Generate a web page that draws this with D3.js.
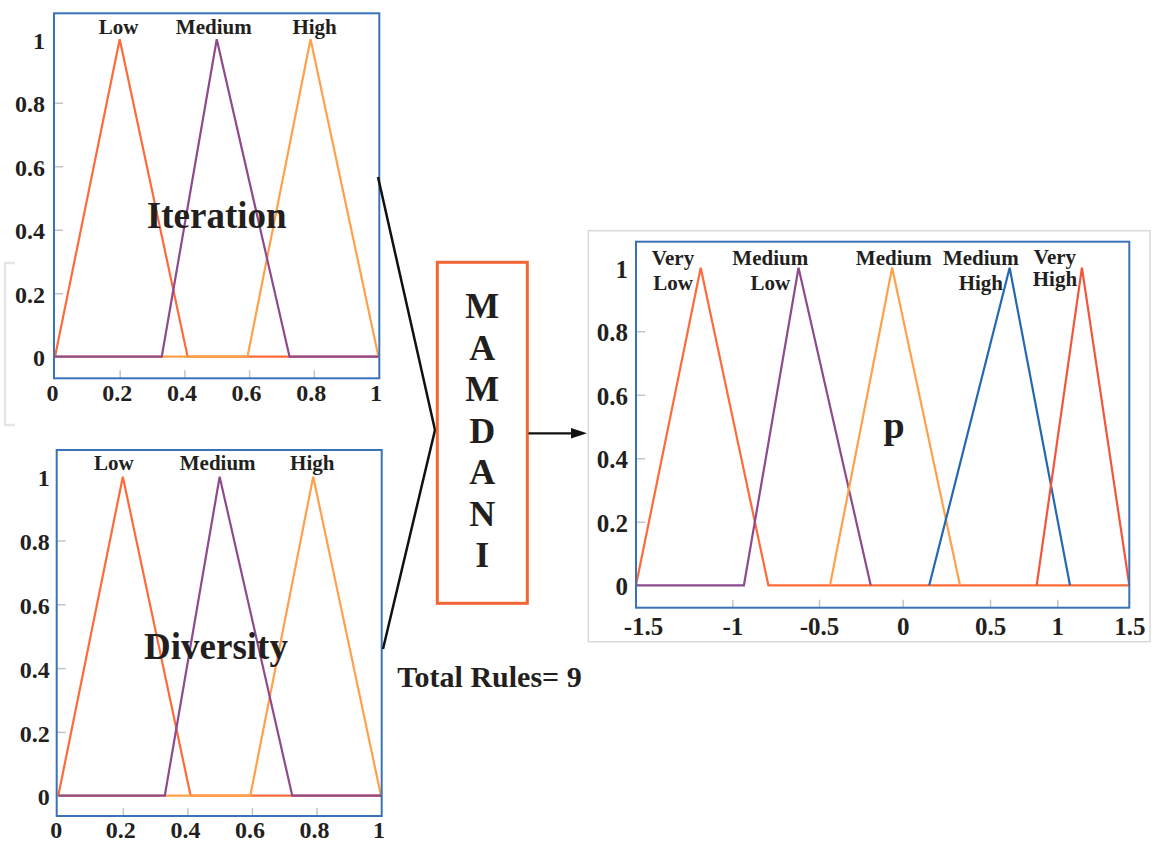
<!DOCTYPE html>
<html><head><meta charset="utf-8">
<script src="https://cdn.jsdelivr.net/npm/d3@7"></script>
<style>
body{margin:0;background:#fff}
svg{display:block}
text{font-family:"Liberation Serif","Times New Roman",serif;font-weight:bold;fill:#231f20}
</style>
</head><body>
<svg id="chart" width="1161" height="843"></svg>
<script>
// ---------------- DATA ----------------
const inputTicks = [0, 0.2, 0.4, 0.6, 0.8, 1];
const membershipTicks = [0, 0.2, 0.4, 0.6, 0.8, 1];
const outputTicks = [-1.5, -1, -0.5, 0, 0.5, 1, 1.5];

const inputSets = ["Low", "Medium", "High"];
const iterationLow    = [[0, 0], [0.2, 1], [0.41, 0], [1, 0]];
const iterationMedium = [[0, 0], [0.33, 0], [0.5, 1], [0.725, 0], [1, 0]];
const iterationHigh   = [[0, 0], [0.595, 0], [0.79, 1], [1, 0]];

const diversityLow    = [[0, 0], [0.2, 1], [0.41, 0], [1, 0]];
const diversityMedium = [[0, 0], [0.33, 0], [0.5, 1], [0.725, 0], [1, 0]];
const diversityHigh   = [[0, 0], [0.595, 0], [0.79, 1], [1, 0]];

const outputSets = [["Very", "Low"], ["Medium", "Low"], ["Medium"], ["Medium", "High"], ["Very", "High"]];
const pVeryLow    = [[-1.5, 0], [-1.164, 1], [-0.792, 0], [1.5, 0]];
const pMediumLow  = [[-1.5, 0], [-0.933, 0], [-0.618, 1], [-0.191, 0]];
const pMedium     = [[-0.434, 0], [-0.063, 1], [0.328, 0]];
const pMediumHigh = [[0.152, 0], [0.646, 1], [1.088, 0]];
const pVeryHigh   = [[0.847, 0], [1.171, 1], [1.5, 0]];

const inputNames = ["Iteration", "Diversity"];
const outputName = "p";
const engineName = "MAMDANI";
const ruleCount = 9;

// ---------------- STYLE / LAYOUT ----------------
const C = {
  red: "#ff6a3a", purple: "#8e4a8c", orange: "#ffa04a", blue: "#2468b2",
  red2: "#f4553a", frame: "#3a72b8", tick: "#c4c4c4", ink: "#231f20"
};
const svg = d3.select("#chart");
const FONT = '"Liberation Serif","Times New Roman",serif';

// faint background bracket
svg.append("path")
  .attr("d", d3.line()([[15, 263], [5, 263], [5, 425], [15, 425]]))
  .attr("fill", "none").attr("stroke", "#e6e6e6").attr("stroke-width", 2.5);

// right panel outer grey frame
svg.append("rect").attr("x", 588.3).attr("y", 230.7).attr("width", 1150 - 588.3).attr("height", 641.7 - 230.7)
  .attr("fill", "none").attr("stroke", "#d9d9d9").attr("stroke-width", 1.5);

function panel(cfg) {
  const g = svg.append("g");
  const { frame, x, y } = cfg;
  const line = d3.line().x(d => x(d[0])).y(d => y(d[1]));

  // series
  cfg.series.forEach(s => {
    g.append("path").attr("d", line(s.points))
      .attr("fill", "none").attr("stroke", s.color).attr("stroke-width", 2.2)
      .attr("stroke-linejoin", "miter");
  });

  // y axis
  const ya = g.append("g").attr("transform", `translate(${frame.x0},0)`)
    .call(d3.axisLeft(y).tickValues(membershipTicks).tickFormat(d => String(d))
      .tickSizeInner(-9).tickSizeOuter(0).tickPadding(cfg.yPad));
  // x axis
  const xa = g.append("g").attr("transform", `translate(0,${frame.y1})`)
    .call(d3.axisBottom(x).tickValues(cfg.xTicks).tickFormat(d => String(d))
      .tickSizeInner(-8).tickSizeOuter(0).tickPadding(cfg.xPad));

  [ya, xa].forEach(a => {
    a.select(".domain").remove();
    a.attr("font-family", FONT).attr("font-weight", "bold").attr("font-size", cfg.tickFont);
    a.selectAll(".tick text").attr("fill", C.ink);
    a.selectAll(".tick line").attr("stroke", C.tick).attr("stroke-width", 1.5);
  });
  ya.selectAll(".tick").filter(d => d === 0 || d === 1).select("line").remove();
  xa.selectAll(".tick").filter((d, i, n) => i === 0 || i === n.length - 1).select("line").remove();
  ya.selectAll(".tick text").attr("dy", "0.38em");
  xa.selectAll(".tick text").attr("dx", (d, i) => cfg.xLabelDx(i));

  // frame
  g.append("rect").attr("x", frame.x0).attr("y", frame.y0)
    .attr("width", frame.x1 - frame.x0).attr("height", frame.y1 - frame.y0)
    .attr("fill", "none").attr("stroke", C.frame).attr("stroke-width", 2);

  // set labels
  cfg.labels.forEach(l => {
    const t = g.append("text").attr("text-anchor", "middle").attr("font-size", 21);
    l.lines.forEach((s, i) => {
      t.append("tspan").attr("x", x(l.peak) + l.dx).attr("y", l.y[i]).text(s);
    });
  });

  // big name
  g.append("text").attr("x", cfg.name.x).attr("y", cfg.name.y).attr("text-anchor", "middle")
    .attr("font-size", cfg.name.size).text(cfg.name.text);
}

const peakOf = pts => pts.find(p => p[1] === 1)[0];

// Iteration panel
const fTop = { x0: 54, y0: 13.3, x1: 379.3, y1: 378.3 };
const itSeries = [iterationLow, iterationMedium, iterationHigh];
panel({
  frame: fTop,
  x: d3.scaleLinear().domain([0, 1]).range([55, 378.5]),
  y: d3.scaleLinear().domain([0, 1]).range([356.7, 39.3]),
  xTicks: inputTicks, yPad: 9, xPad: 6, tickFont: 24, xLabelDx: () => -3,
  series: [
    { points: iterationLow, color: C.red },
    { points: iterationHigh, color: C.orange },
    { points: iterationMedium, color: C.purple }
  ],
  labels: inputSets.map((s, i) => ({ lines: [s], peak: peakOf(itSeries[i]), dx: [-1, -3, 4][i], y: [34.3] })),
  name: { text: inputNames[0], x: 216.7, y: 228.3, size: 37 }
});

// Diversity panel
const dvSeries = [diversityLow, diversityMedium, diversityHigh];
panel({
  frame: { x0: 56.7, y0: 450, x1: 381.7, y1: 816 },
  x: d3.scaleLinear().domain([0, 1]).range([58.3, 381]),
  y: d3.scaleLinear().domain([0, 1]).range([795.7, 476.7]),
  xTicks: inputTicks, yPad: 7, xPad: 5, tickFont: 24, xLabelDx: () => -2.5,
  series: [
    { points: diversityLow, color: C.red },
    { points: diversityHigh, color: C.orange },
    { points: diversityMedium, color: C.purple }
  ],
  labels: inputSets.map((s, i) => ({ lines: [s], peak: peakOf(dvSeries[i]), dx: [-9, -2, -1][i], y: [470] })),
  name: { text: inputNames[1], x: 216, y: 659.3, size: 37 }
});

// Output panel p
const pSeries = [pVeryLow, pMediumLow, pMedium, pMediumHigh, pVeryHigh];
panel({
  frame: { x0: 636, y0: 241.7, x1: 1129.3, y1: 607.7 },
  x: d3.scaleLinear().domain(outputTicks).range([636, 732.3, 819, 902.7, 990, 1057.3, 1129.3]),
  y: d3.scaleLinear().domain([0, 1]).range([585.3, 267.7]),
  xTicks: outputTicks, yPad: 8, xPad: 10, tickFont: 25, xLabelDx: i => (i === 0 ? 7 : 0),
  series: [
    { points: pVeryLow, color: C.red },
    { points: pMediumLow, color: C.purple },
    { points: pMedium, color: C.orange },
    { points: pMediumHigh, color: C.blue },
    { points: pVeryHigh, color: C.red2 }
  ],
  labels: outputSets.map((s, i) => ({
    lines: s, peak: peakOf(pSeries[i]), dx: [-27.7, -28.3, 1.6, -28.8, -27][i],
    y: i === 4 ? [263.5, 286] : [265, 289.5]
  })),
  name: { text: outputName, x: 894, y: 438, size: 38 }
});

// connectors
svg.append("path").attr("d", d3.line()([[378, 177], [435, 430], [383, 649]]))
  .attr("fill", "none").attr("stroke", "#111").attr("stroke-width", 2.5);

// MAMDANI box
svg.append("rect").attr("x", 437.3).attr("y", 262.3).attr("width", 90).attr("height", 341)
  .attr("fill", "none").attr("stroke", "#f26535").attr("stroke-width", 3);
engineName.split("").forEach((ch, i) => {
  svg.append("text").attr("x", 482.3).attr("y", 318 + i * 41.5).attr("text-anchor", "middle")
    .attr("font-size", 36).text(ch);
});

// arrow
svg.append("line").attr("x1", 528.5).attr("y1", 433.3).attr("x2", 574).attr("y2", 433.3)
  .attr("stroke", "#111").attr("stroke-width", 2.2);
svg.append("path").attr("d", d3.line()([[587, 433.3], [571, 428], [571, 438.6]]) + "Z").attr("fill", "#111");

// total rules
svg.append("text").attr("x", 397.3).attr("y", 687.3).attr("font-size", 30).text("Total Rules= " + ruleCount);
</script>
</body></html>
